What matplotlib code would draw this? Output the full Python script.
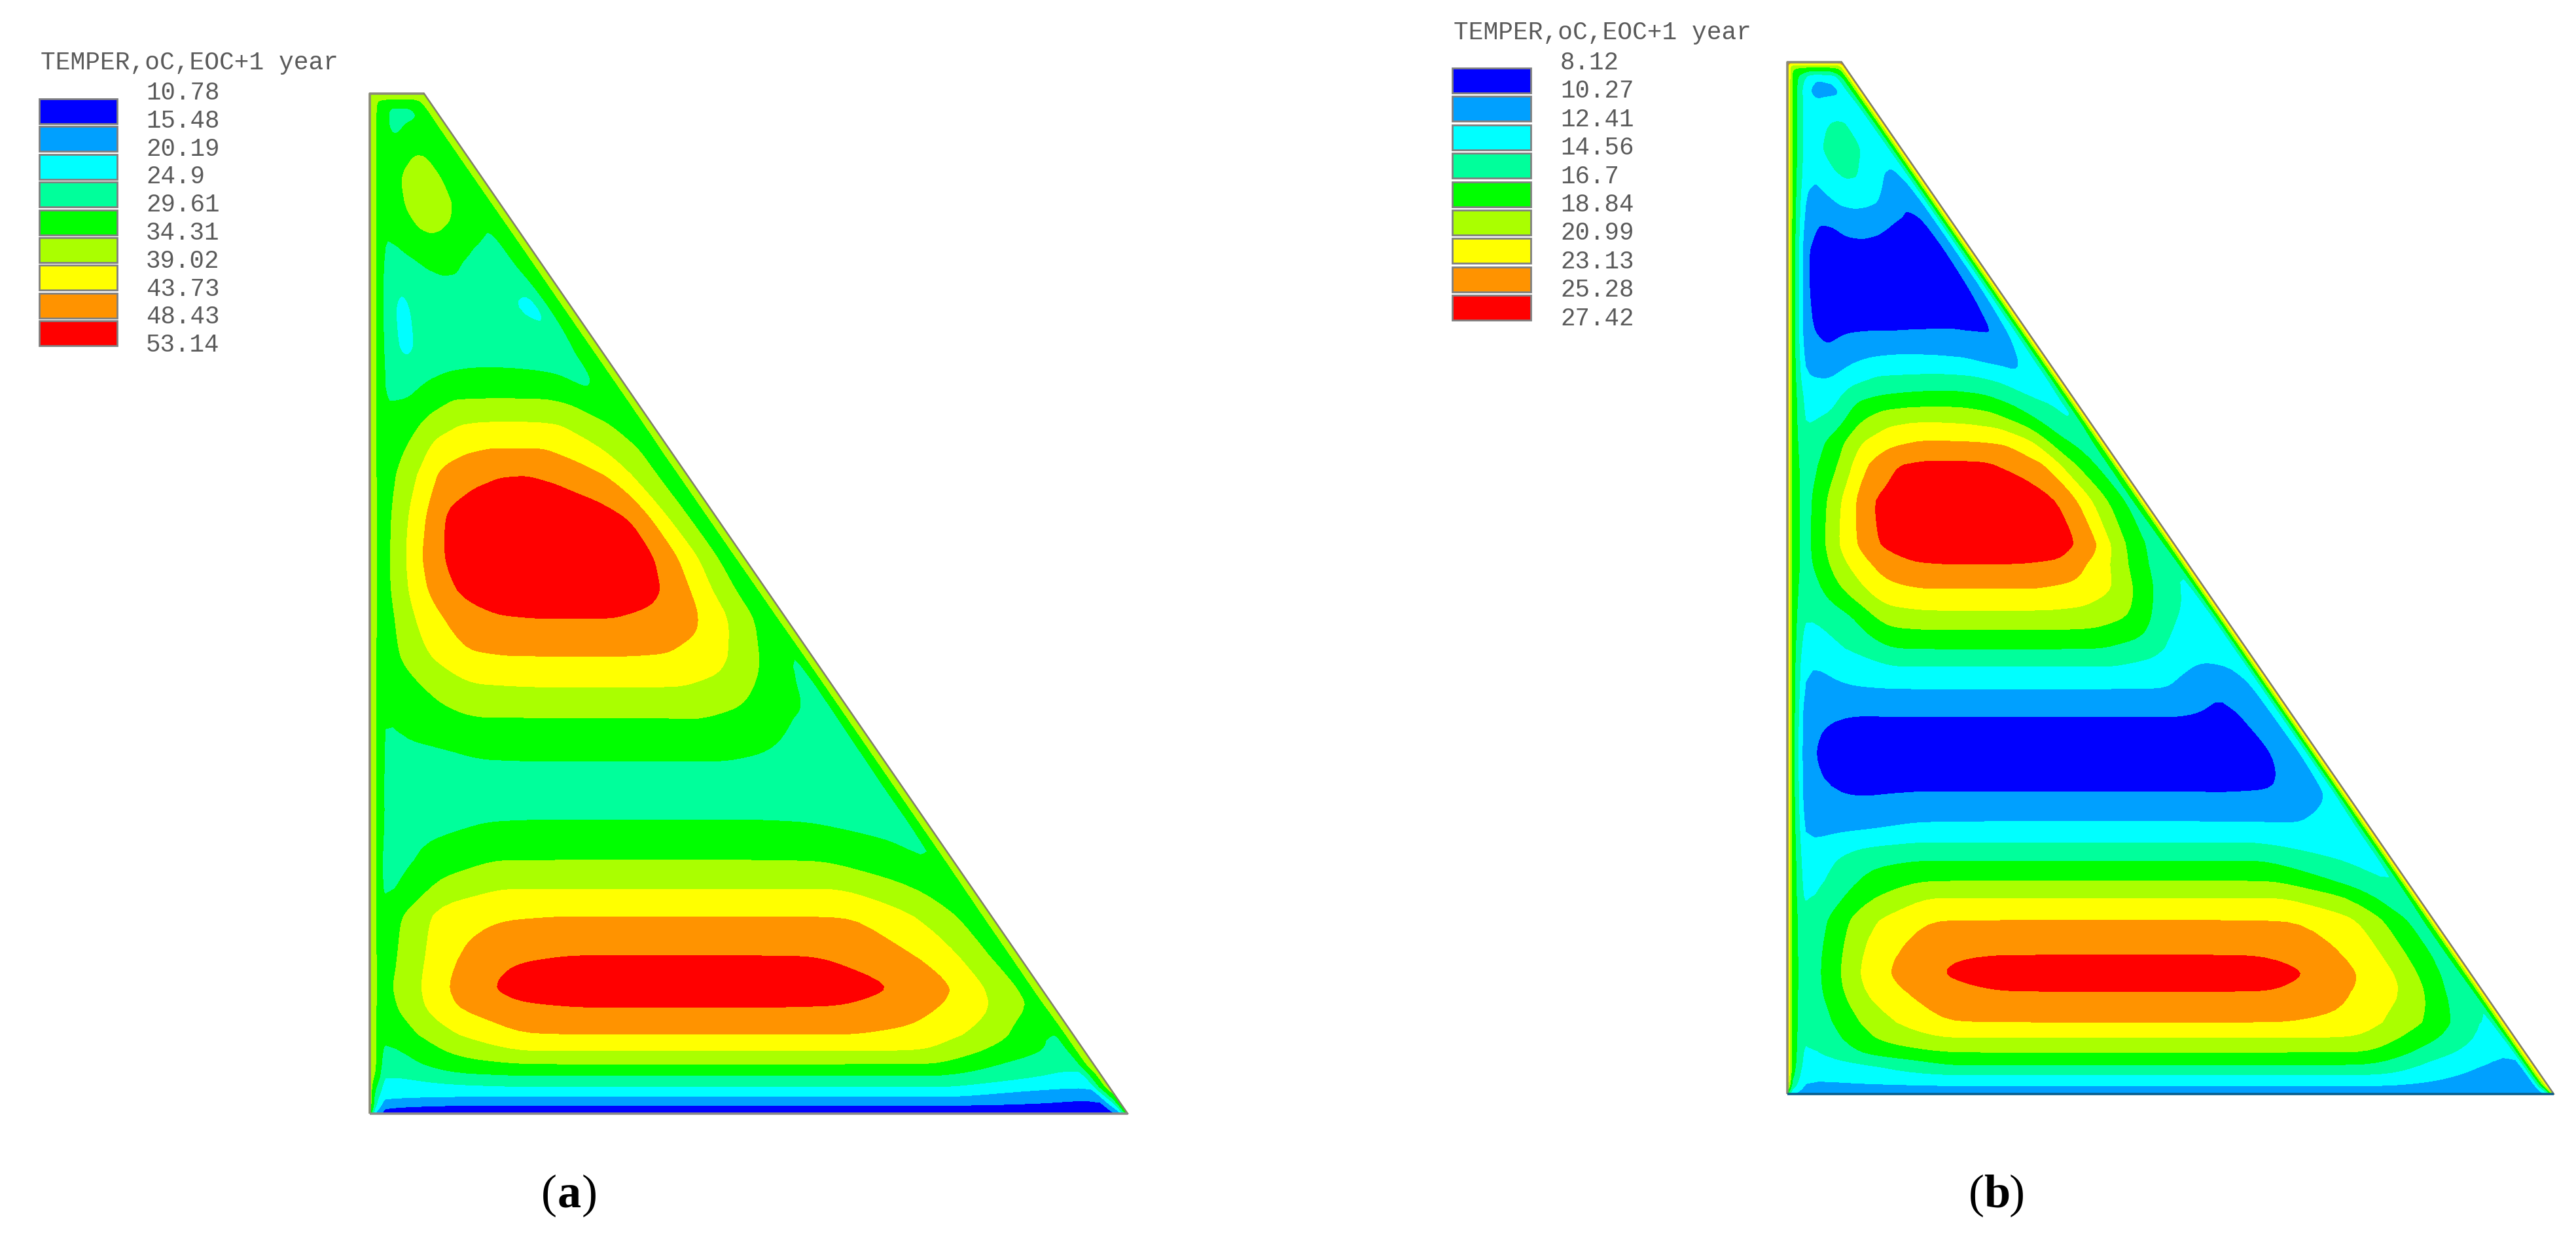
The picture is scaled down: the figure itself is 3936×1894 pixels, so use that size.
import numpy as np
import matplotlib
matplotlib.use('Agg')
import matplotlib.pyplot as plt
from matplotlib.patches import Rectangle

colors = ['#0000FF', '#00A0FF', '#00FFFF', '#00FF9B', '#00FF00',
          '#AAFF00', '#FFFF00', '#FF9300', '#FF0000']

title_text = 'TEMPER,oC,EOC+1 year'
labels_a = ['10.78', '15.48', '20.19', '24.9', '29.61', '34.31', '39.02', '43.73', '48.43', '53.14']
labels_b = ['8.12', '10.27', '12.41', '14.56', '16.7', '18.84', '20.99', '23.13', '25.28', '27.42']

# rows of the mesh, px from the top of the picture
rows_a = [143, 152, 170, 195, 235, 275, 315, 360, 415, 470, 530, 570, 610, 645, 685, 725, 790, 850, 900, 945,
          1002, 1048, 1096, 1160, 1205, 1255, 1314, 1358, 1400, 1459, 1507, 1539, 1580, 1605, 1625, 1643,
          1660, 1675, 1688, 1701]

# temperature, in legend steps (0 = first label, 9 = last label)
# columns: wall, two near the wall, nine across the section, two near the sloped side, sloped side
steps_a = [
    [5.5, 5.5, 5.5, 5.5, 5.5, 5.5, 5.5, 5.5, 5.5, 5.5, 5.5, 5.5, 5.5, 5.5, 5.5],
    [5.5, 5, 5, 5, 5, 5, 5, 5, 5, 5, 5, 5, 5, 5, 5.5],
    [5.5, 5, 4.5, 4.0, 3.7, 3.6, 3.6, 3.6, 3.6, 3.6, 3.7, 3.9, 4.0, 5, 5.5],
    [5.5, 5, 4.3, 3.95, 3.8, 3.85, 3.95, 4.1, 4.2, 4.3, 4.4, 4.4, 4.5, 5, 5.5],
    [5.5, 5, 4.4, 4.5, 4.6, 4.7, 4.9, 5.0, 5.0, 4.9, 4.8, 4.6, 4.5, 5, 5.5],
    [5.5, 5, 4.4, 4.7, 5.0, 5.3, 5.4, 5.4, 5.3, 5.05, 4.8, 4.6, 4.5, 5, 5.5],
    [5.5, 5, 4.3, 4.5, 5.0, 5.3, 5.4, 5.4, 5.3, 5.0, 4.7, 4.4, 4.4, 5, 5.5],
    [5.5, 5, 4.0, 4.2, 4.6, 4.9, 5.0, 4.9, 4.7, 4.3, 4.05, 3.9, 4.2, 5, 5.5],
    [5.5, 5, 3.7, 3.5, 3.6, 3.9, 4.05, 4.0, 3.6, 3.4, 3.5, 3.8, 4.2, 5, 5.5],
    [5.5, 5, 3.6, 2.6, 3.4, 3.5, 3.5, 3.5, 3.4, 3.3, 2.9, 2.55, 4.3, 5, 5.5],
    [5.5, 5, 3.8, 2.6, 3.4, 3.5, 3.55, 3.6, 3.55, 3.5, 3.5, 3.7, 4.2, 5, 5.5],
    [5.5, 5, 3.9, 3.5, 3.8, 4.0, 4.1, 4.1, 4.1, 4.05, 3.95, 3.7, 4.2, 5, 5.5],
    [5.5, 5, 3.95, 4.0, 4.5, 5.0, 5.0, 5.05, 5.0, 5.0, 4.8, 4.2, 4.2, 5, 5.5],
    [5.5, 5, 4.1, 4.6, 5.4, 5.9, 6.0, 6.0, 6.0, 5.95, 5.5, 5.0, 4.4, 5, 5.5],
    [5.5, 5, 4.3, 5.2, 6.4, 6.8, 7.0, 7.0, 7.0, 6.6, 6.1, 5.4, 4.7, 5, 5.5],
    [5.5, 5, 4.5, 5.8, 7.2, 7.7, 7.95, 8.0, 7.8, 7.4, 6.8, 5.65, 4.6, 5, 5.5],
    [5.5, 5, 4.6, 6.5, 8.2, 8.6, 8.7, 8.7, 8.6, 8.4, 7.9, 6.1, 4.6, 5, 5.5],
    [5.5, 5, 4.6, 6.9, 8.4, 8.9, 9.0, 9.0, 8.9, 8.6, 8.0, 6.4, 4.6, 5, 5.5],
    [5.5, 5, 4.6, 6.8, 8.1, 8.7, 8.9, 8.9, 8.8, 8.5, 7.7, 6.05, 4.5, 5, 5.5],
    [5.5, 5, 4.5, 6.4, 7.5, 7.9, 8.0, 8.0, 8.0, 7.7, 7.3, 6.0, 4.5, 5, 5.5],
    [5.5, 5, 4.5, 5.9, 6.9, 7.0, 7.0, 7.0, 7.0, 6.95, 6.5, 5.25, 3.8, 5, 5.5],
    [5.5, 5, 4.2, 5.1, 5.9, 6.0, 6.05, 6.05, 6.05, 6.0, 5.6, 4.6, 3.6, 5, 5.5],
    [5.5, 5, 3.9, 4.6, 5.0, 5.0, 5.0, 5.0, 5.0, 5.05, 4.7, 4.0, 3.7, 5, 5.5],
    [5.5, 5, 3.8, 3.7, 3.95, 4.0, 4.0, 4.0, 4.0, 4.0, 3.85, 3.5, 3.8, 5, 5.5],
    [5.5, 5, 3.8, 3.5, 3.5, 3.5, 3.5, 3.5, 3.5, 3.5, 3.5, 3.5, 3.85, 5, 5.5],
    [5.5, 5, 3.8, 3.7, 3.95, 4.0, 4.0, 4.0, 4.0, 4.0, 3.95, 3.8, 3.8, 5, 5.5],
    [5.5, 5, 3.5, 4.4, 5.0, 5.0, 5.0, 5.0, 5.0, 5.0, 4.95, 4.4, 3.9, 5, 5.5],
    [5.5, 5, 3.6, 5.4, 6.0, 6.0, 6.0, 6.0, 6.0, 6.0, 6.0, 5.3, 4.4, 5, 5.5],
    [5.5, 5, 4.4, 6.5, 6.9, 7.0, 7.0, 7.0, 7.0, 7.0, 7.0, 6.05, 4.6, 5, 5.5],
    [5.5, 5, 4.5, 6.8, 7.8, 8.0, 8.0, 8.0, 8.0, 8.0, 7.5, 6.7, 4.6, 5, 5.5],
    [5.5, 5, 4.6, 7.1, 8.4, 8.8, 8.9, 8.9, 8.8, 8.6, 8.0, 6.95, 4.7, 5, 5.5],
    [5.5, 5, 4.5, 6.95, 7.8, 8.0, 8.0, 8.0, 8.0, 7.95, 7.5, 6.55, 4.7, 5, 5.5],
    [5.5, 5, 4.1, 5.9, 6.95, 7.0, 7.0, 7.0, 7.0, 7.0, 6.7, 5.6, 3.7, 5, 5.5],
    [5.5, 5, 3.6, 5.2, 6.0, 6.0, 6.0, 6.0, 6.0, 6.0, 5.95, 4.7, 3.6, 5, 5.5],
    [5.5, 5, 3.3, 4.6, 5.0, 5.0, 5.0, 5.0, 5.0, 5.0, 5.0, 3.9, 3.2, 5, 5.5],
    [5.5, 4.8, 2.9, 3.8, 4.0, 4.0, 4.0, 4.0, 4.0, 4.0, 4.0, 3.3, 2.6, 4.5, 5.5],
    [5.5, 4.0, 2.4, 2.8, 3.0, 3.0, 3.0, 3.0, 3.0, 3.0, 3.0, 2.4, 2.0, 4.5, 5.5],
    [5.5, 3.3, 2.2, 2.0, 2.0, 2.0, 2.0, 2.0, 2.0, 2.0, 2.0, 1.5, 1.1, 3.5, 5.0],
    [5.5, 3.0, 1.2, 1.0, 1.0, 1.0, 1.0, 1.0, 1.0, 1.0, 1.0, 0.9, 0.7, 2.5, 5.0],
    [5.0, 1.5, 0.5, 0.3, 0.3, 0.3, 0.3, 0.3, 0.3, 0.3, 0.3, 0.3, 0.3, 1.5, 5.0],
]

rows_b = [95, 103, 118, 138, 160, 190, 228, 270, 310, 345, 385, 440, 505, 545, 575, 605, 640, 675, 710, 765,
          830, 862, 900, 945, 990, 1018, 1052, 1093, 1150, 1211, 1255, 1287, 1315, 1346, 1372, 1406, 1458,
          1487, 1515, 1561, 1585, 1607, 1627, 1642, 1658, 1671]

steps_b = [
    [7.2, 7.2, 7.2, 7.2, 7.2, 7.2, 7.2, 7.2, 7.2, 7.2, 7.2, 7.2, 7.2, 7.2, 7.2],
    [7.2, 5, 5, 5, 5, 5, 5, 5, 5, 5, 5, 5, 5, 5, 7.2],
    [7.2, 4.8, 2.8, 2.5, 2.3, 2.2, 2.2, 2.2, 2.3, 2.3, 2.4, 2.5, 2.9, 4.8, 7.2],
    [7.2, 4.8, 2.3, 2.0, 1.8, 1.6, 1.6, 1.6, 1.6, 1.7, 2.0, 2.3, 2.9, 4.8, 7.2],
    [7.2, 4.8, 2.5, 2.3, 2.2, 2.3, 2.4, 2.5, 2.6, 2.6, 2.6, 2.5, 2.6, 4.8, 7.2],
    [7.2, 4.7, 2.5, 2.4, 2.6, 2.9, 3.05, 3.1, 3.05, 2.85, 2.7, 2.5, 2.5, 4.7, 7.2],
    [7.2, 4.7, 2.5, 2.6, 3.0, 3.3, 3.4, 3.4, 3.2, 2.95, 2.6, 2.4, 2.4, 4.7, 7.2],
    [7.2, 4.7, 2.3, 2.1, 2.5, 2.9, 3.1, 3.05, 2.7, 2.3, 1.9, 1.8, 2.2, 4.7, 7.2],
    [7.2, 4.7, 1.8, 1.6, 1.8, 2.1, 2.2, 2.15, 2.0, 1.6, 1.1, 1.2, 2.1, 4.7, 7.2],
    [7.2, 4.7, 1.5, 0.95, 1.0, 1.3, 1.4, 1.3, 1.05, 0.8, 0.75, 0.9, 2.1, 4.7, 7.2],
    [7.2, 4.6, 1.1, 0.5, 0.5, 0.6, 0.6, 0.5, 0.4, 0.4, 0.4, 0.7, 2.1, 4.7, 7.2],
    [7.2, 4.6, 1.1, 0.4, 0.4, 0.3, 0.3, 0.3, 0.3, 0.3, 0.4, 0.7, 2.1, 4.7, 7.2],
    [7.2, 4.6, 1.2, 0.7, 0.9, 0.95, 0.95, 0.98, 1.0, 1.02, 0.98, 0.9, 2.4, 4.7, 7.2],
    [7.2, 4.6, 1.6, 1.2, 1.7, 2.0, 2.1, 2.1, 2.05, 1.95, 1.6, 1.6, 2.6, 4.7, 7.2],
    [7.2, 4.6, 2.0, 1.9, 2.5, 3.0, 3.05, 3.1, 3.1, 3.0, 2.7, 2.1, 2.6, 4.7, 7.2],
    [7.2, 4.6, 2.6, 2.5, 3.7, 4.0, 4.2, 4.3, 4.3, 4.1, 3.6, 2.9, 2.8, 4.7, 7.2],
    [7.2, 4.6, 2.8, 3.2, 4.8, 5.6, 5.8, 5.8, 5.7, 5.4, 4.6, 3.6, 2.8, 4.7, 7.2],
    [7.2, 4.6, 3.1, 4.4, 6.0, 6.7, 7.05, 7.05, 7.0, 6.9, 6.05, 4.2, 3.5, 4.7, 7.2],
    [7.2, 4.6, 3.4, 4.8, 6.9, 8.0, 8.2, 8.2, 8.15, 7.7, 7.0, 5.0, 3.5, 4.7, 7.2],
    [7.2, 4.6, 3.5, 5.8, 8.0, 8.6, 8.8, 8.9, 8.8, 8.6, 7.8, 5.7, 3.6, 4.7, 7.2],
    [7.2, 4.6, 3.5, 6.2, 8.0, 8.8, 9.0, 9.0, 8.9, 8.7, 7.6, 5.0, 3.3, 4.7, 7.2],
    [7.2, 4.6, 3.5, 5.8, 7.3, 7.9, 8.0, 8.0, 7.95, 7.75, 6.5, 4.5, 2.9, 4.7, 7.2],
    [7.2, 4.6, 3.2, 5.1, 6.7, 7.0, 7.0, 7.0, 7.0, 6.7, 6.0, 4.0, 2.6, 4.7, 7.2],
    [7.2, 4.5, 2.9, 3.6, 5.4, 5.6, 5.6, 5.6, 5.6, 5.5, 4.9, 3.1, 2.2, 4.7, 7.2],
    [7.2, 4.5, 2.3, 3.05, 3.95, 4.0, 4.0, 4.0, 4.0, 3.95, 3.5, 2.2, 2.2, 4.7, 7.2],
    [7.2, 4.5, 1.9, 2.3, 3.0, 3.0, 3.0, 3.0, 3.0, 3.0, 2.6, 1.9, 2.1, 4.7, 7.2],
    [7.2, 4.5, 1.7, 1.95, 2.0, 2.0, 2.0, 2.0, 2.0, 2.0, 2.0, 1.0, 2.1, 4.7, 7.2],
    [7.2, 4.5, 1.2, 0.98, 1.0, 1.0, 1.0, 1.0, 1.0, 1.0, 1.0, 0.7, 2.1, 4.7, 7.2],
    [7.2, 4.5, 1.1, 0.3, 0.3, 0.3, 0.3, 0.3, 0.3, 0.3, 0.3, 0.4, 2.1, 4.7, 7.2],
    [7.2, 4.5, 1.2, 0.9, 1.0, 1.0, 1.0, 1.0, 1.0, 1.0, 0.98, 1.05, 2.1, 4.7, 7.2],
    [7.2, 4.5, 1.6, 1.5, 1.95, 2.0, 2.0, 2.0, 2.0, 2.0, 2.0, 1.95, 2.6, 4.7, 7.2],
    [7.2, 4.6, 1.9, 2.7, 3.0, 3.0, 3.0, 3.0, 3.0, 3.0, 3.0, 2.6, 2.6, 4.7, 7.2],
    [7.2, 4.6, 2.2, 3.7, 4.0, 4.0, 4.0, 4.0, 4.0, 4.0, 4.0, 3.2, 2.6, 4.7, 7.2],
    [7.2, 4.6, 2.4, 4.2, 5.0, 5.0, 5.0, 5.0, 5.0, 5.0, 5.0, 4.0, 2.8, 4.7, 7.2],
    [7.2, 4.6, 2.6, 4.8, 6.0, 6.0, 6.0, 6.0, 6.0, 6.0, 6.0, 5.1, 3.0, 4.7, 7.2],
    [7.2, 4.6, 3.0, 5.8, 7.0, 7.0, 7.0, 7.0, 7.0, 7.0, 7.0, 6.1, 3.4, 4.7, 7.2],
    [7.2, 4.6, 3.1, 6.4, 7.8, 8.0, 8.0, 8.0, 8.0, 8.0, 7.6, 6.15, 3.4, 4.7, 7.2],
    [7.2, 4.6, 3.1, 6.6, 7.95, 8.6, 8.7, 8.7, 8.7, 8.6, 7.7, 6.2, 3.2, 4.7, 7.2],
    [7.2, 4.6, 3.1, 6.4, 7.6, 8.0, 8.0, 8.0, 8.0, 8.0, 7.3, 6.05, 2.9, 4.7, 7.2],
    [7.2, 4.6, 3.0, 5.5, 7.0, 7.0, 7.0, 7.0, 7.0, 7.0, 6.7, 5.1, 2.5, 4.7, 7.2],
    [7.2, 4.6, 2.8, 5.1, 6.0, 6.0, 6.0, 6.0, 6.0, 6.0, 5.95, 4.2, 2.2, 4.7, 7.2],
    [7.2, 4.6, 2.6, 4.4, 5.0, 5.0, 5.0, 5.0, 5.0, 5.0, 5.0, 3.3, 1.8, 4.7, 7.2],
    [7.2, 4.5, 2.4, 3.0, 4.0, 4.0, 4.0, 4.0, 4.0, 4.0, 3.9, 2.35, 1.6, 4.7, 7.2],
    [7.2, 4.2, 2.1, 2.6, 3.0, 3.0, 3.0, 3.0, 3.0, 3.0, 2.95, 2.0, 1.5, 4.7, 7.2],
    [6.5, 3.5, 1.8, 1.9, 2.0, 2.0, 2.0, 2.0, 2.0, 2.0, 2.0, 1.6, 1.5, 4.5, 7.0],
    [4.0, 2.0, 1.3, 1.3, 1.3, 1.3, 1.3, 1.3, 1.3, 1.3, 1.3, 1.3, 1.3, 2.5, 6.0],
]


def mesh(rows, left, top_right, right, off_left, off_right):
    rows = np.array(rows, dtype=float)
    hyp = top_right + (right - top_right) * (rows - rows[0]) / (rows[-1] - rows[0])
    xs = []
    for h in hyp:
        start = left + off_left[-1]
        end = max(h + off_right[0], start + 5)
        inner = np.linspace(start, end, 11)[1:-1]
        xs.append([left + o for o in off_left] + list(inner) + [h + o for o in off_right])
    xs = np.array(xs)
    ys = np.repeat(rows[:, None], xs.shape[1], axis=1)
    return xs, ys


def finer(a, k=6):
    # bilinear in mesh index, so the mesh keeps its shape
    nr, nc = a.shape
    ri = np.linspace(0, nr - 1, (nr - 1) * k + 1)
    ci = np.linspace(0, nc - 1, (nc - 1) * k + 1)
    a = np.array([np.interp(ci, np.arange(nc), line) for line in a])
    a = np.array([np.interp(ri, np.arange(nr), line) for line in a.T]).T
    return a


def soften(z, passes=3):
    # take the corners off the contours, walls stay as read
    for _ in range(passes):
        z2 = z.copy()
        z2[1:-1, :] = 0.25 * z[:-2, :] + 0.5 * z[1:-1, :] + 0.25 * z[2:, :]
        z3 = z2.copy()
        z3[:, 1:-1] = 0.25 * z2[:, :-2] + 0.5 * z2[:, 1:-1] + 0.25 * z2[:, 2:]
        z3[:, :6] = z2[:, :6]
        z3[:, -6:] = z2[:, -6:]
        z = z3
    return z


def draw_panel(ax, rows, steps, labels, left, top_right, right, off_left, off_right, bottom_edge):
    xs, ys = mesh(rows, left, top_right, right, off_left, off_right)
    levels = np.array([float(s) for s in labels])
    temp = np.interp(np.array(steps, dtype=float), np.arange(10), levels)
    fx, fy = finer(xs), finer(ys)
    fz = soften(finer(temp))
    fz = np.clip(fz, levels[0], levels[-1] - 1e-6)
    ax.contourf(fx, fy, fz, levels=levels, colors=colors, antialiased=False)

    top = rows[0]
    bot = rows[-1]
    ax.plot([top_right, left, left], [top, top, bot], color='#8a8a78', lw=2.6, solid_capstyle='butt')
    ax.plot([top_right, right], [top, bot], color='#7f7f6a', lw=1.8)
    ax.plot([left, right], [bot, bot], color=bottom_edge, lw=2.6, solid_capstyle='butt')


def draw_legend(ax, labels, box_x, box_w, box_y, box_h, pitch, label_x, label_y, label_pitch, title_x, title_y):
    ax.text(title_x, title_y, title_text, family='Liberation Mono', fontsize=27.3, color='#5a5a5a',
            ha='left', va='center')
    for i, c in enumerate(colors):
        ax.add_patch(Rectangle((box_x, box_y + i * pitch), box_w, box_h, facecolor=c,
                               edgecolor='#808080', lw=2))
    for i, s in enumerate(labels):
        ax.text(label_x, label_y + i * label_pitch, s, family='Liberation Mono', fontsize=27,
                color='#5a5a5a', ha='left', va='center')


def caption(ax, x, y, letter):
    ax.text(x - 31, y, '(', family='Liberation Serif', fontsize=52, ha='center', va='center', color='black')
    ax.text(x, y, letter, family='Liberation Serif', fontweight='bold', fontsize=52, ha='center',
            va='center', color='black')
    ax.text(x + 31, y, ')', family='Liberation Serif', fontsize=52, ha='center', va='center', color='black')


fig = plt.figure(figsize=(39.36, 18.94), dpi=100)
ax = fig.add_axes([0, 0, 1, 1])
ax.set_xlim(0, 3936)
ax.set_ylim(1894, 0)
ax.axis('off')

draw_panel(ax, rows_a, steps_a, labels_a, 565, 648, 1723, [0, 10, 24], [-30, -12, 0], '#8a8a8a')
draw_panel(ax, rows_b, steps_b, labels_b, 2731, 2814, 3902, [0, 8, 28], [-22, -9, 0], '#0a5f8f')

draw_legend(ax, labels_a, 60, 119, 151, 38, 42.4, 223, 142, 42.8, 62, 96)
draw_legend(ax, labels_b, 2219, 120, 104, 38, 43.4, 2384, 96, 43.4, 2221, 50)

caption(ax, 870, 1826, 'a')
caption(ax, 3051, 1826, 'b')

fig.savefig('out.png', dpi=100, facecolor='white')
